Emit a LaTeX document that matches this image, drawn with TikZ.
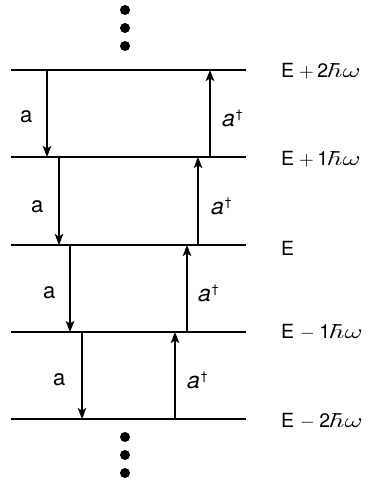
\documentclass[tikz,border=0pt]{standalone}
\usepackage{fontspec}
\usepackage{graphicx}
\setmainfont{TeX Gyre Heros}
\usetikzlibrary{arrows.meta}
\tikzset{
  level/.style={line width=1.6pt},
  trans/.style={line width=1.6pt,-{Stealth[length=11pt,width=8.5pt,inset=2.5pt]}},
  lbl/.style={inner sep=0pt,anchor=base west,font=\fontsize{22}{24}\selectfont},
  dlbl/.style={inner sep=0pt,anchor=base west,font=\fontsize{23}{24}\selectfont},
  elbl/.style={inner sep=0pt,anchor=base west,font=\fontsize{19.5}{22}\selectfont},
  dot/.style={circle,fill=black,inner sep=0pt,minimum size=10pt}
}
\newcommand{\hw}{\scalebox{2.75}[2.0]{\normalsize$\hbar\omega$}}
\newcommand{\adag}{\textit{a}\kern1pt\raisebox{8pt}{\fontsize{12}{12}\selectfont\textdagger}}
\newcommand{\opp}{\kern5pt\scalebox{1.9}{\normalsize$+$}\kern3.5pt}
\newcommand{\opm}{\kern6pt\scalebox{1.9}{\normalsize$-$}\kern4.5pt}
\begin{document}
\begin{tikzpicture}[x=1pt,y=-1pt]
\useasboundingbox (0,0) rectangle (375,484);
% levels
\foreach \i/\y in {1/70,2/157,3/245,4/332,5/419}{
  \coordinate (L\i w) at (11,\y);
  \coordinate (L\i e) at (246,\y);
  \draw[level] (L\i w) -- (L\i e);
}
% dots
\node[dot] (t1) at (125,10) {};
\node[dot] (t2) at (125,28) {};
\node[dot] (t3) at (125,46) {};
\node[dot] (b1) at (125,437) {};
\node[dot] (b2) at (125,455) {};
\node[dot] (b3) at (125,473) {};
% down arrows (a)
\coordinate (d1s) at (47,70);  \coordinate (d1e) at (47,157);
\coordinate (d2s) at (59,157); \coordinate (d2e) at (59,245);
\coordinate (d3s) at (70,245); \coordinate (d3e) at (70,332);
\coordinate (d4s) at (82,332); \coordinate (d4e) at (82,419);
\foreach \i in {1,2,3,4}{ \draw[trans] (d\i s) -- (d\i e); }
% up arrows (a dagger)
\coordinate (u1s) at (210,157); \coordinate (u1e) at (210,70);
\coordinate (u2s) at (198,245); \coordinate (u2e) at (198,157);
\coordinate (u3s) at (187,332); \coordinate (u3e) at (187,245);
\coordinate (u4s) at (175,419); \coordinate (u4e) at (175,332);
\foreach \i in {1,2,3,4}{ \draw[trans] (u\i s) -- (u\i e); }
% a labels
\node[lbl] (a1) at (20,123) {a};
\node[lbl] (a2) at (31,212) {a};
\node[lbl] (a3) at (43,298) {a};
\node[lbl] (a4) at (53,385) {a};
% a dagger labels
\node[dlbl] (ad1) at (222,126) {\adag};
\node[dlbl] (ad2) at (211,214) {\adag};
\node[dlbl] (ad3) at (198,301) {\adag};
\node[dlbl] (ad4) at (187,388) {\adag};
% energy labels
\node[elbl] (e1) at (281,78) {E\opp 2\kern3pt\hw};
\node[elbl] (e2) at (281,165) {E\opp 1\kern3pt\hw};
\node[elbl] (e3) at (281,255) {E};
\node[elbl] (e4) at (281,338) {E\opm 1\kern3pt\hw};
\node[elbl] (e5) at (281,427) {E\opm 2\kern3pt\hw};
\end{tikzpicture}
\end{document}
